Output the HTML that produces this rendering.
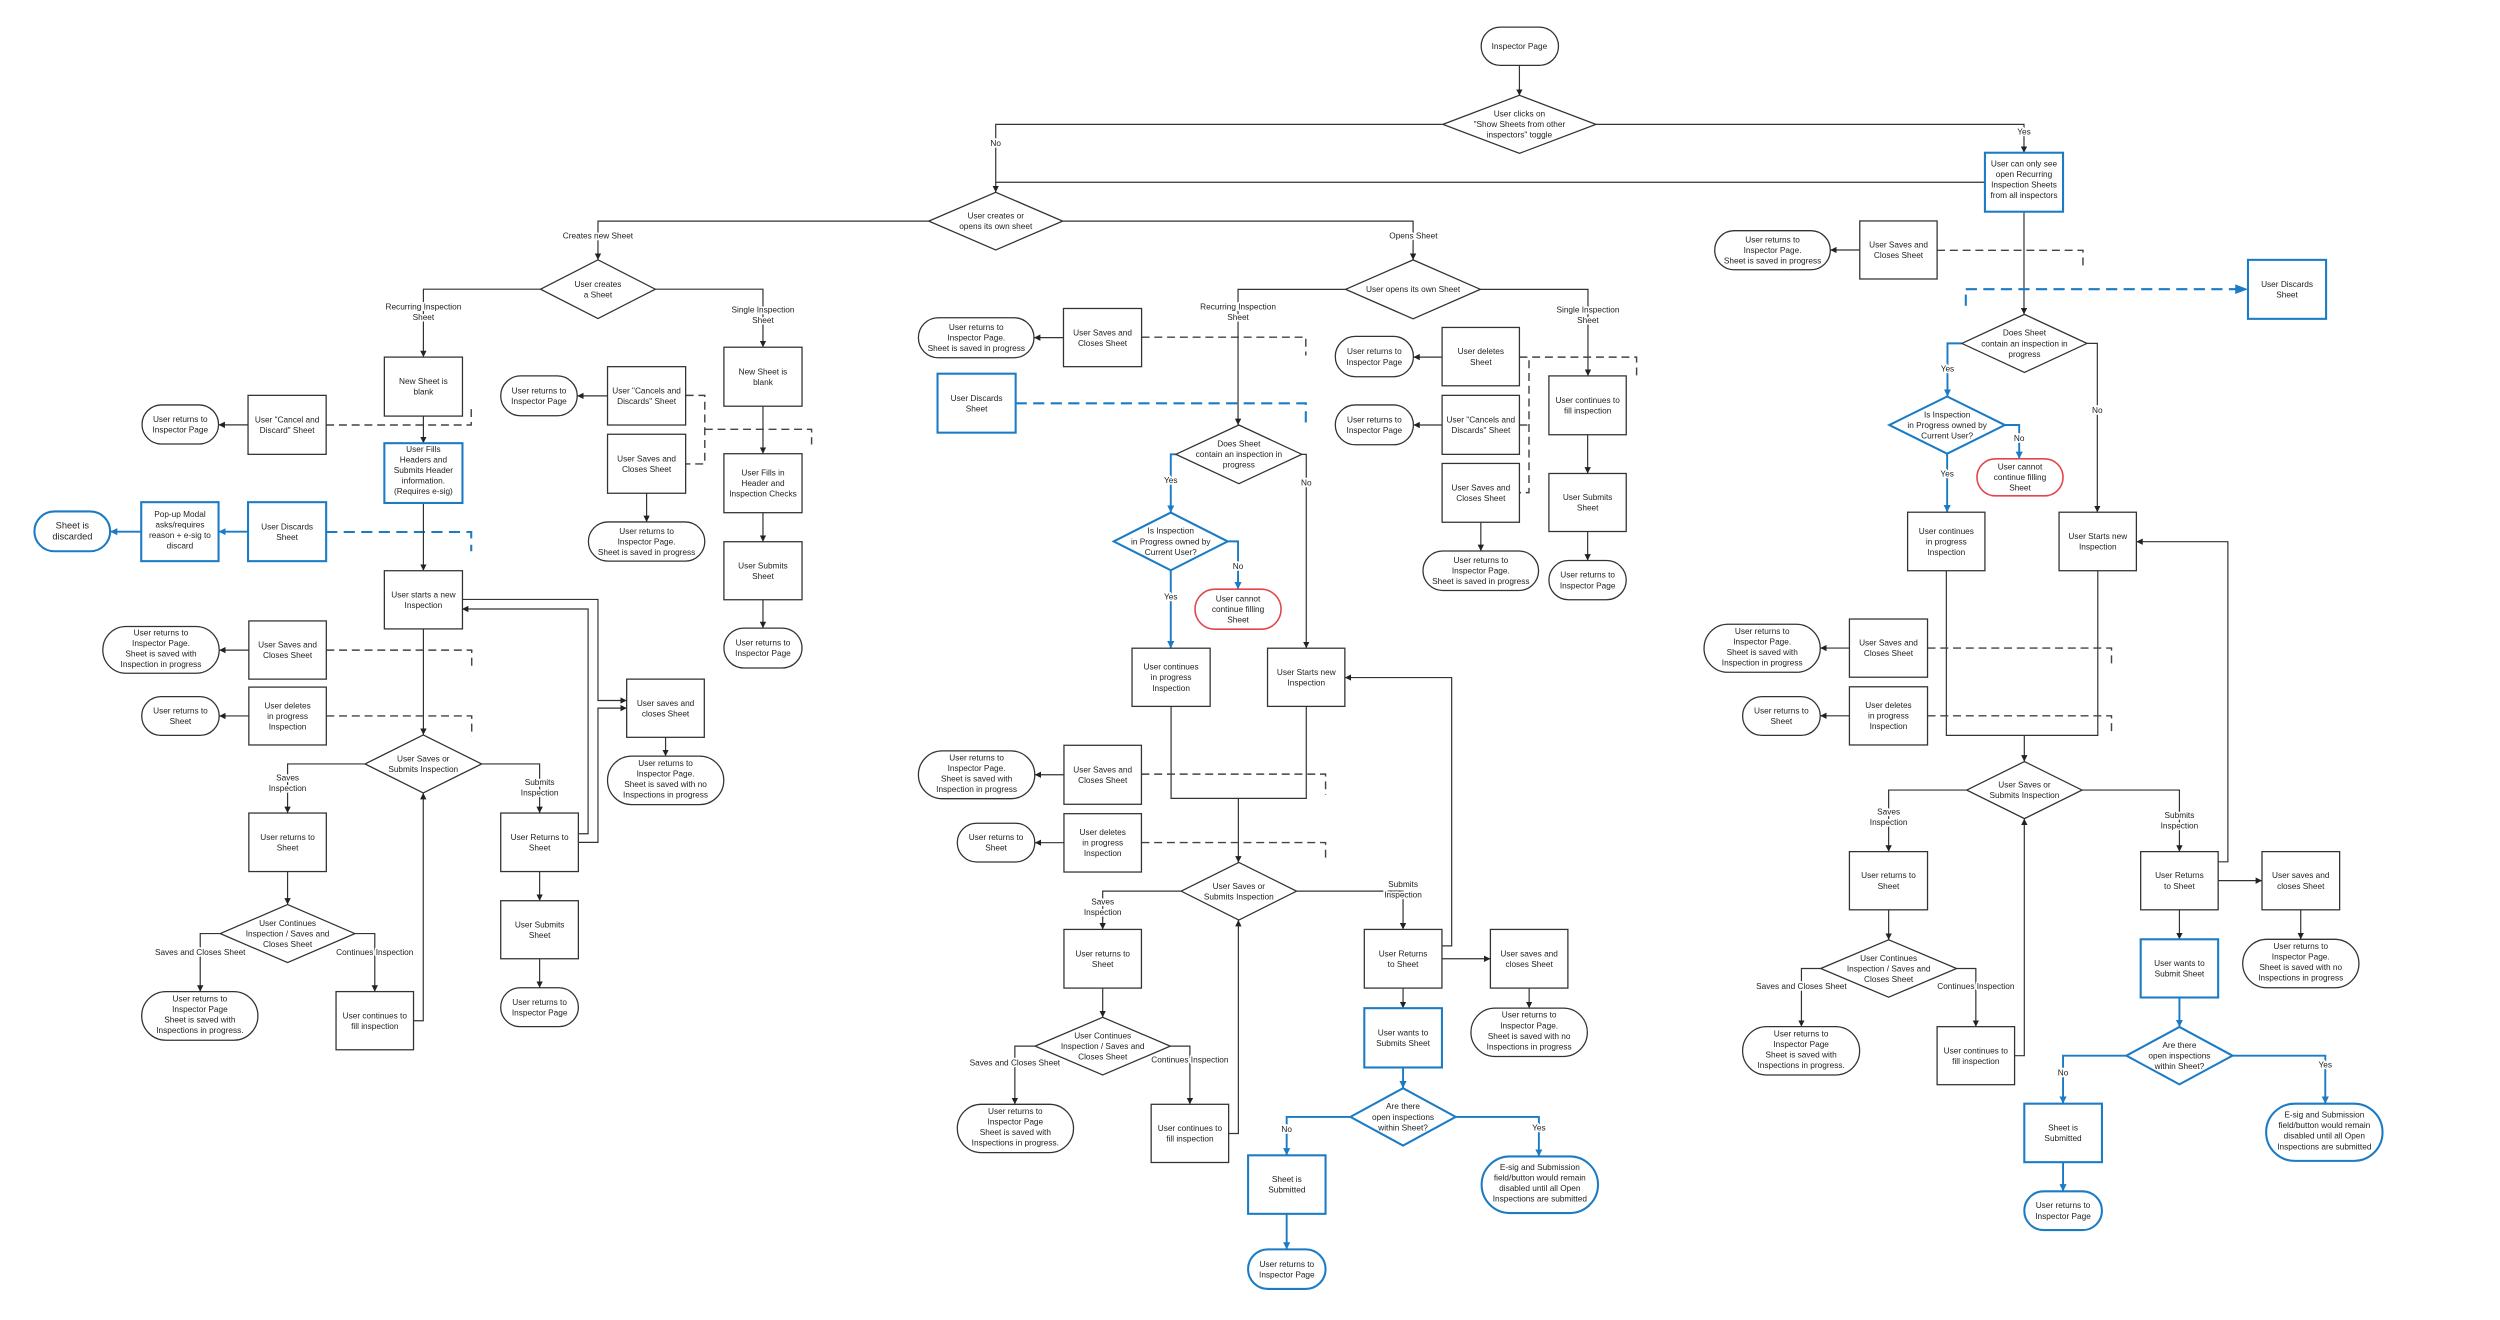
<!DOCTYPE html>
<html><head><meta charset="utf-8"><style>
html,body{margin:0;padding:0;background:#fff;}
svg{display:block;}
text{font-family:"Liberation Sans",Arial,sans-serif;font-size:5.2px;fill:#222;text-anchor:middle;}
.lb{paint-order:stroke;stroke:#fff;stroke-width:2.2px;stroke-linejoin:round;}
.n{fill:#fff;stroke:#333;stroke-width:0.8;}
.bn{fill:#fff;stroke:#1b7bc4;stroke-width:1.3;}
.rn{fill:#fff;stroke:#e0474c;stroke-width:1;}
.c{fill:none;stroke:#333;stroke-width:0.75;marker-end:url(#ab);}
.cn{fill:none;stroke:#333;stroke-width:0.75;}
.d{fill:none;stroke:#444;stroke-width:0.9;stroke-dasharray:5,3;}
.bc{fill:none;stroke:#1b7bc4;stroke-width:1.2;marker-end:url(#au);}
.bd{fill:none;stroke:#1b7bc4;stroke-width:1.3;stroke-dasharray:7,4;}
</style></head><body>
<svg width="2500" height="1320" viewBox="0 0 1568 828" xmlns="http://www.w3.org/2000/svg">
<defs>
<marker id="ab" viewBox="0 0 10 10" refX="10" refY="5" markerWidth="4" markerHeight="4" markerUnits="userSpaceOnUse" orient="auto"><path d="M0,0L10,5L0,10z" fill="#222"/></marker>
<marker id="au" viewBox="0 0 10 10" refX="10" refY="5" markerWidth="4.5" markerHeight="4.5" markerUnits="userSpaceOnUse" orient="auto"><path d="M0,0L10,5L0,10z" fill="#1b7bc4"/></marker>
</defs>
<rect width="1568" height="828" fill="#fff"/>

<!-- connectors -->
<path class="c" d="M953,41V60"/>
<path class="c" d="M905,78H624.5V120.6"/>
<path class="c" d="M1001,78H1269.5V95.8"/>
<path class="cn" d="M1245,114.3H624.5"/>
<path class="c" d="M582.5,138.7H375V163"/>
<path class="c" d="M666.5,138.7H886.3V163"/>
<path class="c" d="M339,181.4H265.5V224"/>
<path class="c" d="M411,181.4H478.5V217.8"/>
<path class="c" d="M155.5,266.5H137"/>
<path class="d" d="M204.5,266.6H295.5V254.8"/>
<path class="c" d="M265.5,261V278"/>
<path class="bc" d="M155.5,333.5H137"/>
<path class="bc" d="M88.5,333.5H69"/>
<path class="bd" d="M204.5,333.7H295.5V345.8"/>
<path class="c" d="M265.5,315.5V358"/>
<path class="c" d="M265.5,394.4V461"/>
<path class="c" d="M156,407.8H137.4"/>
<path class="d" d="M204.6,407.8H295.8V420"/>
<path class="c" d="M156,449.1H137.4"/>
<path class="d" d="M204.6,449.1H295.8V462"/>
<path class="c" d="M228.9,479.2H180.3V510"/>
<path class="c" d="M302,479.2H338.4V510"/>
<path class="c" d="M180.3,546.7V567.4"/>
<path class="c" d="M138.1,585.6H125.5V622"/>
<path class="c" d="M222.5,585.6H235V622"/>
<path class="c" d="M259.3,640.3H265.4V497.4"/>
<path class="c" d="M338.4,546.7V565"/>
<path class="c" d="M338.4,601.4V619.6"/>
<path class="c" d="M289.7,376H375V439.4H393"/>
<path class="c" d="M362.7,523H368.8V382H289.7"/>
<path class="c" d="M362.7,528.4H375V444.2H393"/>
<path class="c" d="M417.4,462.5V474.3"/>
<path class="c" d="M381,248.3H362"/>
<path class="c" d="M405.5,309.4V327.4"/>
<path class="d" d="M430,248H442V291H430"/>
<path class="d" d="M442,269.3H509V278.8"/>
<path class="c" d="M478.5,254.8V284.6"/>
<path class="c" d="M478.5,321.6V339.8"/>
<path class="c" d="M478.5,376.2V394"/>
<path class="c" d="M667,211.8H648.5"/>
<path class="d" d="M716,211.5H819V223"/>
<path class="bd" d="M637,253H819V266"/>
<path class="c" d="M844,181.5H776.5V266.6"/>
<path class="c" d="M928.5,181.5H996V235.8"/>
<path class="c" d="M904.5,224H886.5"/>
<path class="c" d="M904.5,266.6H886.5"/>
<path class="d" d="M953,224H1026.5V236"/>
<path class="d" d="M959,226V309H953"/>
<path class="d" d="M953,266.6H959"/>
<path class="c" d="M995.8,272.7V297"/>
<path class="c" d="M995.8,333.4V351.6"/>
<path class="c" d="M928.8,327.6V345.6"/>
<path class="bc" d="M737.5,285H734.3V321.5"/>
<path class="c" d="M816.5,285H819.3V406.6"/>
<path class="bc" d="M770,339.6H776.5V369.6"/>
<path class="bc" d="M734.3,357.7V406.6"/>
<path class="cn" d="M734.5,443V500.8H819.3V443"/>
<path class="c" d="M776.7,500.8V541"/>
<path class="c" d="M667.3,486H649"/>
<path class="d" d="M715.9,485.6H831.4V498.5"/>
<path class="c" d="M667.3,528.6H649"/>
<path class="d" d="M715.9,528.5H831.4V540.7"/>
<path class="c" d="M740.8,559H691.6V583"/>
<path class="c" d="M813.2,559H880V583"/>
<path class="c" d="M691.6,619.8V638.1"/>
<path class="c" d="M649.2,656.2H636.5V692.7"/>
<path class="c" d="M734,656.2H746.3V692.7"/>
<path class="c" d="M770.6,711H776.7V577.1"/>
<path class="c" d="M904.4,593.3H910.5V425H843.5"/>
<path class="c" d="M904.4,601.4H934.8"/>
<path class="c" d="M959.1,619.8V632.4"/>
<path class="c" d="M880,619.8V632.4"/>
<path class="bc" d="M880,669.6V682.6"/>
<path class="bc" d="M847,700.6H807V724.7"/>
<path class="bc" d="M913,700.6H965.2V725.4"/>
<path class="bc" d="M807,761.4V783.7"/>
<path class="c" d="M1269.5,132.8V197.2"/>
<path class="c" d="M1166.5,156.8H1148"/>
<path class="d" d="M1215,157H1306.5V169"/>
<path class="bd" d="M1233,181.4H1406" />
<path d="M1402,178.4L1410,181.4L1402,184.4z" fill="#1b7bc4"/>
<path class="bd" d="M1233,184.8V192"/>
<path class="bc" d="M1230.5,215.4H1221.5V248.7"/>
<path class="c" d="M1309,215.4H1315.5V321.3"/>
<path class="bc" d="M1257.5,266.6H1266.5V287.8"/>
<path class="bc" d="M1221.3,284.6V321.3"/>
<path class="cn" d="M1220.8,358V461.3H1315.8V358"/>
<path class="c" d="M1269.7,461.3V477.7"/>
<path class="c" d="M1160,406.5H1141.7"/>
<path class="d" d="M1209,406.5H1324.4V418.7"/>
<path class="c" d="M1160,449H1141.7"/>
<path class="d" d="M1209,449H1324.4V461.3"/>
<path class="c" d="M1233.6,495.6H1184.6V534.2"/>
<path class="c" d="M1305.9,495.6H1367V534.2"/>
<path class="c" d="M1184.6,570.7V589.5"/>
<path class="c" d="M1142,607.5H1129.9V644"/>
<path class="c" d="M1227.2,607.5H1239.3V644"/>
<path class="c" d="M1263.6,662.2H1269.7V513.5"/>
<path class="c" d="M1391.3,540.6H1397.4V339.8H1340"/>
<path class="c" d="M1391.3,552.4H1418.8"/>
<path class="c" d="M1443.1,570.7V589.2"/>
<path class="c" d="M1367,570.7V589.2"/>
<path class="bc" d="M1367,625.7V644.2"/>
<path class="bc" d="M1333.7,662.2H1294V692.3"/>
<path class="bc" d="M1400.3,662.2H1458.5V692.3"/>
<path class="bc" d="M1294,729V747.3"/>

<!-- connector labels -->
<text class="lb" x="624.5" y="91.5">No</text>
<text class="lb" x="1269.5" y="84.5">Yes</text>
<text class="lb" x="375" y="149.5">Creates new Sheet</text>
<text class="lb" x="886.5" y="149.5">Opens Sheet</text>
<text class="lb" x="265.5" y="194"><tspan x="265.5">Recurring Inspection</tspan><tspan x="265.5" dy="6.6">Sheet</tspan></text>
<text class="lb" x="478.5" y="196"><tspan x="478.5">Single Inspection</tspan><tspan x="478.5" dy="6.6">Sheet</tspan></text>
<text class="lb" x="180.3" y="489.5"><tspan x="180.3">Saves</tspan><tspan x="180.3" dy="6.6">Inspection</tspan></text>
<text class="lb" x="338.4" y="492.5"><tspan x="338.4">Submits</tspan><tspan x="338.4" dy="6.6">Inspection</tspan></text>
<text class="lb" x="125.5" y="599">Saves and Closes Sheet</text>
<text class="lb" x="235" y="599">Continues Inspection</text>
<text class="lb" x="776.5" y="194"><tspan x="776.5">Recurring Inspection</tspan><tspan x="776.5" dy="6.6">Sheet</tspan></text>
<text class="lb" x="996" y="196"><tspan x="996">Single Inspection</tspan><tspan x="996" dy="6.6">Sheet</tspan></text>
<text class="lb" x="734.3" y="303">Yes</text>
<text class="lb" x="819.3" y="304.5">No</text>
<text class="lb" x="776.5" y="357">No</text>
<text class="lb" x="734.3" y="376">Yes</text>
<text class="lb" x="691.6" y="567.5"><tspan x="691.6">Saves</tspan><tspan x="691.6" dy="6.6">Inspection</tspan></text>
<text class="lb" x="880" y="556.5"><tspan x="880">Submits</tspan><tspan x="880" dy="6.6">Inspection</tspan></text>
<text class="lb" x="636.5" y="668.5">Saves and Closes Sheet</text>
<text class="lb" x="746.3" y="666.5">Continues Inspection</text>
<text class="lb" x="807" y="710">No</text>
<text class="lb" x="965.2" y="709">Yes</text>
<text class="lb" x="1221.5" y="233">Yes</text>
<text class="lb" x="1315.5" y="259">No</text>
<text class="lb" x="1266.5" y="276.5">No</text>
<text class="lb" x="1221.3" y="299">Yes</text>
<text class="lb" x="1184.6" y="511"><tspan x="1184.6">Saves</tspan><tspan x="1184.6" dy="6.6">Inspection</tspan></text>
<text class="lb" x="1367" y="513"><tspan x="1367">Submits</tspan><tspan x="1367" dy="6.6">Inspection</tspan></text>
<text class="lb" x="1129.9" y="620.5">Saves and Closes Sheet</text>
<text class="lb" x="1239.3" y="620.5">Continues Inspection</text>
<text class="lb" x="1294" y="674.5">No</text>
<text class="lb" x="1458.5" y="669.5">Yes</text>

<!-- nodes -->
<rect class="n" x="929" y="17" width="48.5" height="24" rx="12"/>
<text x="953" y="30.8">Inspector Page</text>
<path class="n" d="M905,78L953,59.8L1001,78L953,96.2z"/>
<text x="953" y="73.2"><tspan x="953">User clicks on</tspan><tspan x="953" dy="6.6">"Show Sheets from other</tspan><tspan x="953" dy="6.6">inspectors" toggle</tspan></text>
<rect class="bn" x="1245" y="95.8" width="49" height="37"/>
<text x="1269.5" y="104.4"><tspan x="1269.5">User can only see</tspan><tspan x="1269.5" dy="6.6">open Recurring</tspan><tspan x="1269.5" dy="6.6">Inspection Sheets</tspan><tspan x="1269.5" dy="6.6">from all inspectors</tspan></text>
<path class="n" d="M582.5,138.7L624.5,120.6L666.5,138.7L624.5,156.8z"/>
<text x="624.5" y="137.2"><tspan x="624.5">User creates or</tspan><tspan x="624.5" dy="6.6">opens its own sheet</tspan></text>
<path class="n" d="M339,181.4L375,163L411,181.4L375,199.8z"/>
<text x="375" y="179.9"><tspan x="375">User creates</tspan><tspan x="375" dy="6.6">a Sheet</tspan></text>
<path class="n" d="M844,181.5L886.3,163L928.5,181.5L886.3,200z"/>
<text x="886.3" y="183.3">User opens its own Sheet</text>

<rect class="n" x="241" y="224" width="49" height="37"/>
<text x="265.5" y="241"><tspan x="265.5">New Sheet is</tspan><tspan x="265.5" dy="6.6">blank</tspan></text>
<rect class="n" x="155.5" y="248" width="49" height="37"/>
<text x="180" y="265"><tspan x="180">User "Cancel and</tspan><tspan x="180" dy="6.6">Discard" Sheet</tspan></text>
<rect class="n" x="89" y="254" width="48" height="24.5" rx="12.2"/>
<text x="113" y="264.8"><tspan x="113">User returns to</tspan><tspan x="113" dy="6.6">Inspector Page</tspan></text>
<rect class="bn" x="241" y="278" width="49" height="37.5"/>
<text x="265.5" y="283.6"><tspan x="265.5">User Fills</tspan><tspan x="265.5" dy="6.6">Headers and</tspan><tspan x="265.5" dy="6.6">Submits Header</tspan><tspan x="265.5" dy="6.6">information.</tspan><tspan x="265.5" dy="6.6">(Requires e-sig)</tspan></text>
<rect class="bn" x="155.5" y="315" width="49" height="37"/>
<text x="180" y="332"><tspan x="180">User Discards</tspan><tspan x="180" dy="6.6">Sheet</tspan></text>
<rect class="bn" x="88.5" y="315" width="48.5" height="37"/>
<text x="112.8" y="324.4"><tspan x="112.8">Pop-up Modal</tspan><tspan x="112.8" dy="6.6">asks/requires</tspan><tspan x="112.8" dy="6.6">reason + e-sig to</tspan><tspan x="112.8" dy="6.6">discard</tspan></text>
<rect class="bn" x="21.5" y="320.8" width="47.5" height="25" rx="12.5"/>
<text x="45.3" y="331.4" style="font-size:5.8px"><tspan x="45.3">Sheet is</tspan><tspan x="45.3" dy="7">discarded</tspan></text>
<rect class="n" x="241" y="358" width="49" height="36.5"/>
<text x="265.5" y="374.7"><tspan x="265.5">User starts a new</tspan><tspan x="265.5" dy="6.6">Inspection</tspan></text>
<rect class="n" x="156" y="389.5" width="48.6" height="36.5"/>
<text x="180.3" y="406.3"><tspan x="180.3">User Saves and</tspan><tspan x="180.3" dy="6.6">Closes Sheet</tspan></text>
<rect class="n" x="64.4" y="393" width="73" height="29.3" rx="14.6"/>
<text x="100.9" y="398.6"><tspan x="100.9">User returns to</tspan><tspan x="100.9" dy="6.6">Inspector Page.</tspan><tspan x="100.9" dy="6.6">Sheet is saved with</tspan><tspan x="100.9" dy="6.6">Inspection in progress</tspan></text>
<rect class="n" x="156" y="431" width="48.6" height="36.3"/>
<text x="180.3" y="444.4"><tspan x="180.3">User deletes</tspan><tspan x="180.3" dy="6.6">in progress</tspan><tspan x="180.3" dy="6.6">Inspection</tspan></text>
<rect class="n" x="88.8" y="437" width="48.6" height="24.3" rx="12.1"/>
<text x="113.1" y="447.7"><tspan x="113.1">User returns to</tspan><tspan x="113.1" dy="6.6">Sheet</tspan></text>
<path class="n" d="M228.9,479.2L265.4,461L302,479.2L265.4,497.4z"/>
<text x="265.4" y="477.7"><tspan x="265.4">User Saves or</tspan><tspan x="265.4" dy="6.6">Submits Inspection</tspan></text>
<rect class="n" x="156" y="510" width="48.6" height="36.7"/>
<text x="180.3" y="526.8"><tspan x="180.3">User returns to</tspan><tspan x="180.3" dy="6.6">Sheet</tspan></text>
<path class="n" d="M138.1,585.6L180.3,567.4L222.5,585.6L180.3,603.8z"/>
<text x="180.3" y="580.8"><tspan x="180.3">User Continues</tspan><tspan x="180.3" dy="6.6">Inspection / Saves and</tspan><tspan x="180.3" dy="6.6">Closes Sheet</tspan></text>
<rect class="n" x="88.8" y="622" width="72.9" height="30.5" rx="15.2"/>
<text x="125.3" y="628.2"><tspan x="125.3">User returns to</tspan><tspan x="125.3" dy="6.6">Inspector Page</tspan><tspan x="125.3" dy="6.6">Sheet is saved with</tspan><tspan x="125.3" dy="6.6">Inspections in progress.</tspan></text>
<rect class="n" x="210.7" y="622" width="48.6" height="36.5"/>
<text x="235" y="638.8"><tspan x="235">User continues to</tspan><tspan x="235" dy="6.6">fill inspection</tspan></text>
<rect class="n" x="314" y="510" width="48.7" height="36.7"/>
<text x="338.4" y="526.8"><tspan x="338.4">User Returns to</tspan><tspan x="338.4" dy="6.6">Sheet</tspan></text>
<rect class="n" x="314" y="565" width="48.7" height="36.4"/>
<text x="338.4" y="581.7"><tspan x="338.4">User Submits</tspan><tspan x="338.4" dy="6.6">Sheet</tspan></text>
<rect class="n" x="314" y="619.6" width="48.7" height="24.4" rx="12.2"/>
<text x="338.4" y="630.3"><tspan x="338.4">User returns to</tspan><tspan x="338.4" dy="6.6">Inspector Page</tspan></text>
<rect class="n" x="393" y="426" width="48.7" height="36.5"/>
<text x="417.4" y="442.7"><tspan x="417.4">User saves and</tspan><tspan x="417.4" dy="6.6">closes Sheet</tspan></text>
<rect class="n" x="381" y="474.3" width="72.9" height="30.4" rx="15.2"/>
<text x="417.4" y="480.4"><tspan x="417.4">User returns to</tspan><tspan x="417.4" dy="6.6">Inspector Page.</tspan><tspan x="417.4" dy="6.6">Sheet is saved with no</tspan><tspan x="417.4" dy="6.6">Inspections in progress</tspan></text>

<rect class="n" x="381" y="230" width="49" height="36.6"/>
<text x="405.5" y="246.8"><tspan x="405.5">User "Cancels and</tspan><tspan x="405.5" dy="6.6">Discards" Sheet</tspan></text>
<rect class="n" x="314" y="235.8" width="48" height="25" rx="12.5"/>
<text x="338" y="246.8"><tspan x="338">User returns to</tspan><tspan x="338" dy="6.6">Inspector Page</tspan></text>
<rect class="n" x="381" y="272.4" width="49" height="37"/>
<text x="405.5" y="289.4"><tspan x="405.5">User Saves and</tspan><tspan x="405.5" dy="6.6">Closes Sheet</tspan></text>
<rect class="n" x="369" y="327.4" width="73" height="24.6" rx="12.3"/>
<text x="405.5" y="334.9"><tspan x="405.5">User returns to</tspan><tspan x="405.5" dy="6.6">Inspector Page.</tspan><tspan x="405.5" dy="6.6">Sheet is saved in progress</tspan></text>
<rect class="n" x="454" y="217.8" width="49" height="37"/>
<text x="478.5" y="234.8"><tspan x="478.5">New Sheet is</tspan><tspan x="478.5" dy="6.6">blank</tspan></text>
<rect class="n" x="454" y="284.6" width="49" height="37"/>
<text x="478.5" y="298.3"><tspan x="478.5">User Fills in</tspan><tspan x="478.5" dy="6.6">Header and</tspan><tspan x="478.5" dy="6.6">Inspection Checks</tspan></text>
<rect class="n" x="454" y="339.8" width="49" height="36.4"/>
<text x="478.5" y="356.5"><tspan x="478.5">User Submits</tspan><tspan x="478.5" dy="6.6">Sheet</tspan></text>
<rect class="n" x="454" y="394" width="49" height="25" rx="12.5"/>
<text x="478.5" y="405"><tspan x="478.5">User returns to</tspan><tspan x="478.5" dy="6.6">Inspector Page</tspan></text>

<rect class="n" x="667" y="193.5" width="49" height="36.5"/>
<text x="691.5" y="210.3"><tspan x="691.5">User Saves and</tspan><tspan x="691.5" dy="6.6">Closes Sheet</tspan></text>
<rect class="n" x="576" y="199.3" width="72.5" height="25.1" rx="12.5"/>
<text x="612.3" y="207.1"><tspan x="612.3">User returns to</tspan><tspan x="612.3" dy="6.6">Inspector Page.</tspan><tspan x="612.3" dy="6.6">Sheet is saved in progress</tspan></text>
<rect class="bn" x="588" y="234.4" width="49" height="37"/>
<text x="612.5" y="251.4"><tspan x="612.5">User Discards</tspan><tspan x="612.5" dy="6.6">Sheet</tspan></text>
<path class="n" d="M737.5,285L777,266.6L816.5,285L777,303.4z"/>
<text x="777" y="280.2"><tspan x="777">Does Sheet</tspan><tspan x="777" dy="6.6">contain an inspection in</tspan><tspan x="777" dy="6.6">progress</tspan></text>
<path class="bn" d="M698.5,339.6L734.3,321.5L770,339.6L734.3,357.7z"/>
<text x="734.3" y="334.8"><tspan x="734.3">Is Inspection</tspan><tspan x="734.3" dy="6.6">in Progress owned by</tspan><tspan x="734.3" dy="6.6">Current User?</tspan></text>
<rect class="rn" x="749.5" y="369.6" width="54" height="25.1" rx="12.5"/>
<text x="776.5" y="377.4"><tspan x="776.5">User cannot</tspan><tspan x="776.5" dy="6.6">continue filling</tspan><tspan x="776.5" dy="6.6">Sheet</tspan></text>
<rect class="n" x="710" y="406.6" width="49" height="36.5"/>
<text x="734.5" y="420.1"><tspan x="734.5">User continues</tspan><tspan x="734.5" dy="6.6">in progress</tspan><tspan x="734.5" dy="6.6">Inspection</tspan></text>
<rect class="n" x="795" y="406.6" width="48.5" height="36.5"/>
<text x="819.3" y="423.4"><tspan x="819.3">User Starts new</tspan><tspan x="819.3" dy="6.6">Inspection</tspan></text>
<rect class="n" x="904.5" y="205.4" width="48.5" height="36.6"/>
<text x="928.8" y="222.2"><tspan x="928.8">User deletes</tspan><tspan x="928.8" dy="6.6">Sheet</tspan></text>
<rect class="n" x="837.5" y="211" width="49" height="25.3" rx="12.6"/>
<text x="862" y="222.2"><tspan x="862">User returns to</tspan><tspan x="862" dy="6.6">Inspector Page</tspan></text>
<rect class="n" x="904.5" y="248" width="48.5" height="37"/>
<text x="928.8" y="265"><tspan x="928.8">User "Cancels and</tspan><tspan x="928.8" dy="6.6">Discards" Sheet</tspan></text>
<rect class="n" x="837.5" y="254" width="49" height="25" rx="12.5"/>
<text x="862" y="265"><tspan x="862">User returns to</tspan><tspan x="862" dy="6.6">Inspector Page</tspan></text>
<rect class="n" x="904.5" y="290.7" width="48.5" height="36.9"/>
<text x="928.8" y="307.6"><tspan x="928.8">User Saves and</tspan><tspan x="928.8" dy="6.6">Closes Sheet</tspan></text>
<rect class="n" x="892.5" y="345.6" width="72.5" height="24.8" rx="12.4"/>
<text x="928.8" y="353.2"><tspan x="928.8">User returns to</tspan><tspan x="928.8" dy="6.6">Inspector Page.</tspan><tspan x="928.8" dy="6.6">Sheet is saved in progress</tspan></text>
<rect class="n" x="971.5" y="235.8" width="48.5" height="36.9"/>
<text x="995.8" y="252.7"><tspan x="995.8">User continues to</tspan><tspan x="995.8" dy="6.6">fill inspection</tspan></text>
<rect class="n" x="971.5" y="297" width="48.5" height="36.4"/>
<text x="995.8" y="313.7"><tspan x="995.8">User Submits</tspan><tspan x="995.8" dy="6.6">Sheet</tspan></text>
<rect class="n" x="971.5" y="351.6" width="48.5" height="24.6" rx="12.3"/>
<text x="995.8" y="362.4"><tspan x="995.8">User returns to</tspan><tspan x="995.8" dy="6.6">Inspector Page</tspan></text>

<rect class="n" x="667.3" y="467.5" width="48.6" height="37"/>
<text x="691.6" y="484.5"><tspan x="691.6">User Saves and</tspan><tspan x="691.6" dy="6.6">Closes Sheet</tspan></text>
<rect class="n" x="576" y="471" width="73" height="30" rx="15"/>
<text x="612.5" y="476.9"><tspan x="612.5">User returns to</tspan><tspan x="612.5" dy="6.6">Inspector Page.</tspan><tspan x="612.5" dy="6.6">Sheet is saved with</tspan><tspan x="612.5" dy="6.6">Inspection in progress</tspan></text>
<rect class="n" x="667.3" y="510.4" width="48.6" height="36.6"/>
<text x="691.6" y="523.9"><tspan x="691.6">User deletes</tspan><tspan x="691.6" dy="6.6">in progress</tspan><tspan x="691.6" dy="6.6">Inspection</tspan></text>
<rect class="n" x="600.4" y="516.4" width="48.6" height="24.3" rx="12.1"/>
<text x="624.7" y="527"><tspan x="624.7">User returns to</tspan><tspan x="624.7" dy="6.6">Sheet</tspan></text>
<path class="n" d="M740.8,559L777,541L813.2,559L777,577.1z"/>
<text x="777" y="557.5"><tspan x="777">User Saves or</tspan><tspan x="777" dy="6.6">Submits Inspection</tspan></text>
<rect class="n" x="667.3" y="583" width="48.6" height="36.8"/>
<text x="691.6" y="599.9"><tspan x="691.6">User returns to</tspan><tspan x="691.6" dy="6.6">Sheet</tspan></text>
<path class="n" d="M649.2,656.2L691.6,638.1L734,656.2L691.6,674.3z"/>
<text x="691.6" y="651.4"><tspan x="691.6">User Continues</tspan><tspan x="691.6" dy="6.6">Inspection / Saves and</tspan><tspan x="691.6" dy="6.6">Closes Sheet</tspan></text>
<rect class="n" x="600.4" y="692.7" width="72.9" height="30.3" rx="15.1"/>
<text x="636.8" y="698.7"><tspan x="636.8">User returns to</tspan><tspan x="636.8" dy="6.6">Inspector Page</tspan><tspan x="636.8" dy="6.6">Sheet is saved with</tspan><tspan x="636.8" dy="6.6">Inspections in progress.</tspan></text>
<rect class="n" x="722" y="692.7" width="48.6" height="36.5"/>
<text x="746.3" y="709.5"><tspan x="746.3">User continues to</tspan><tspan x="746.3" dy="6.6">fill inspection</tspan></text>
<rect class="n" x="855.7" y="583" width="48.7" height="36.8"/>
<text x="880" y="599.9"><tspan x="880">User Returns</tspan><tspan x="880" dy="6.6">to Sheet</tspan></text>
<rect class="n" x="934.8" y="583" width="48.6" height="36.8"/>
<text x="959.1" y="599.9"><tspan x="959.1">User saves and</tspan><tspan x="959.1" dy="6.6">closes Sheet</tspan></text>
<rect class="n" x="922.6" y="632.4" width="73" height="30.3" rx="15.1"/>
<text x="959.1" y="638.4"><tspan x="959.1">User returns to</tspan><tspan x="959.1" dy="6.6">Inspector Page.</tspan><tspan x="959.1" dy="6.6">Sheet is saved with no</tspan><tspan x="959.1" dy="6.6">Inspections in progress</tspan></text>
<rect class="bn" x="855.7" y="632.4" width="48.7" height="37.2"/>
<text x="880" y="649.5"><tspan x="880">User wants to</tspan><tspan x="880" dy="6.6">Submits Sheet</tspan></text>
<path class="bn" d="M847,700.6L880,682.6L913,700.6L880,718.6z"/>
<text x="880" y="695.8"><tspan x="880">Are there</tspan><tspan x="880" dy="6.6">open inspections</tspan><tspan x="880" dy="6.6">within Sheet?</tspan></text>
<rect class="bn" x="782.8" y="724.7" width="48.6" height="36.7"/>
<text x="807.1" y="741.5"><tspan x="807.1">Sheet is</tspan><tspan x="807.1" dy="6.6">Submitted</tspan></text>
<rect class="bn" x="929.3" y="725.4" width="73" height="35.5" rx="17.7"/>
<text x="965.8" y="734"><tspan x="965.8">E-sig and Submission</tspan><tspan x="965.8" dy="6.6">field/button would remain</tspan><tspan x="965.8" dy="6.6">disabled until all Open</tspan><tspan x="965.8" dy="6.6">Inspections are submitted</tspan></text>
<rect class="bn" x="782.8" y="783.7" width="48.6" height="24.8" rx="12.4"/>
<text x="807.1" y="794.6"><tspan x="807.1">User returns to</tspan><tspan x="807.1" dy="6.6">Inspector Page</tspan></text>

<rect class="n" x="1166.5" y="138.6" width="48.5" height="36.4"/>
<text x="1190.8" y="155.3"><tspan x="1190.8">User Saves and</tspan><tspan x="1190.8" dy="6.6">Closes Sheet</tspan></text>
<rect class="n" x="1075.5" y="144.7" width="72.5" height="24.5" rx="12.2"/>
<text x="1111.8" y="152.2"><tspan x="1111.8">User returns to</tspan><tspan x="1111.8" dy="6.6">Inspector Page.</tspan><tspan x="1111.8" dy="6.6">Sheet is saved in progress</tspan></text>
<rect class="bn" x="1410" y="163" width="49" height="37"/>
<text x="1434.5" y="180"><tspan x="1434.5">User Discards</tspan><tspan x="1434.5" dy="6.6">Sheet</tspan></text>
<path class="n" d="M1230.5,215.4L1269.8,197.2L1309,215.4L1269.8,233.6z"/>
<text x="1269.8" y="210.6"><tspan x="1269.8">Does Sheet</tspan><tspan x="1269.8" dy="6.6">contain an inspection in</tspan><tspan x="1269.8" dy="6.6">progress</tspan></text>
<path class="bn" d="M1185,266.6L1221.3,248.7L1257.5,266.6L1221.3,284.6z"/>
<text x="1221.3" y="261.8"><tspan x="1221.3">Is Inspection</tspan><tspan x="1221.3" dy="6.6">in Progress owned by</tspan><tspan x="1221.3" dy="6.6">Current User?</tspan></text>
<rect class="rn" x="1240" y="287.8" width="54" height="23.2" rx="11.6"/>
<text x="1267" y="294.6"><tspan x="1267">User cannot</tspan><tspan x="1267" dy="6.6">continue filling</tspan><tspan x="1267" dy="6.6">Sheet</tspan></text>
<rect class="n" x="1196.5" y="321.3" width="48.5" height="36.7"/>
<text x="1220.8" y="334.9"><tspan x="1220.8">User continues</tspan><tspan x="1220.8" dy="6.6">in progress</tspan><tspan x="1220.8" dy="6.6">Inspection</tspan></text>
<rect class="n" x="1291.5" y="321.3" width="48.5" height="36.7"/>
<text x="1315.8" y="338.2"><tspan x="1315.8">User Starts new</tspan><tspan x="1315.8" dy="6.6">Inspection</tspan></text>
<rect class="n" x="1160" y="388.3" width="49" height="36.5"/>
<text x="1184.5" y="405"><tspan x="1184.5">User Saves and</tspan><tspan x="1184.5" dy="6.6">Closes Sheet</tspan></text>
<rect class="n" x="1068.8" y="391.6" width="72.9" height="30.1" rx="15"/>
<text x="1105.3" y="397.6"><tspan x="1105.3">User returns to</tspan><tspan x="1105.3" dy="6.6">Inspector Page.</tspan><tspan x="1105.3" dy="6.6">Sheet is saved with</tspan><tspan x="1105.3" dy="6.6">Inspection in progress</tspan></text>
<rect class="n" x="1160" y="430.8" width="49" height="36.5"/>
<text x="1184.5" y="444.2"><tspan x="1184.5">User deletes</tspan><tspan x="1184.5" dy="6.6">in progress</tspan><tspan x="1184.5" dy="6.6">Inspection</tspan></text>
<rect class="n" x="1093" y="437" width="48.7" height="24.3" rx="12.1"/>
<text x="1117.3" y="447.7"><tspan x="1117.3">User returns to</tspan><tspan x="1117.3" dy="6.6">Sheet</tspan></text>
<path class="n" d="M1233.6,495.6L1269.8,477.7L1305.9,495.6L1269.8,513.5z"/>
<text x="1269.8" y="494.1"><tspan x="1269.8">User Saves or</tspan><tspan x="1269.8" dy="6.6">Submits Inspection</tspan></text>
<rect class="n" x="1160" y="534.2" width="49" height="36.5"/>
<text x="1184.5" y="550.9"><tspan x="1184.5">User returns to</tspan><tspan x="1184.5" dy="6.6">Sheet</tspan></text>
<path class="n" d="M1142,607.5L1184.6,589.5L1227.2,607.5L1184.6,625.5z"/>
<text x="1184.6" y="602.7"><tspan x="1184.6">User Continues</tspan><tspan x="1184.6" dy="6.6">Inspection / Saves and</tspan><tspan x="1184.6" dy="6.6">Closes Sheet</tspan></text>
<rect class="n" x="1093" y="644" width="73.4" height="30.3" rx="15.1"/>
<text x="1129.7" y="650.1"><tspan x="1129.7">User returns to</tspan><tspan x="1129.7" dy="6.6">Inspector Page</tspan><tspan x="1129.7" dy="6.6">Sheet is saved with</tspan><tspan x="1129.7" dy="6.6">Inspections in progress.</tspan></text>
<rect class="n" x="1215" y="644" width="48.6" height="36.4"/>
<text x="1239.3" y="660.7"><tspan x="1239.3">User continues to</tspan><tspan x="1239.3" dy="6.6">fill inspection</tspan></text>
<rect class="n" x="1342.7" y="534.2" width="48.6" height="36.5"/>
<text x="1367" y="550.9"><tspan x="1367">User Returns</tspan><tspan x="1367" dy="6.6">to Sheet</tspan></text>
<rect class="n" x="1418.8" y="534.2" width="48.7" height="36.5"/>
<text x="1443.1" y="550.9"><tspan x="1443.1">User saves and</tspan><tspan x="1443.1" dy="6.6">closes Sheet</tspan></text>
<rect class="n" x="1406.7" y="589.2" width="72.9" height="30.4" rx="15.2"/>
<text x="1443.1" y="595.3"><tspan x="1443.1">User returns to</tspan><tspan x="1443.1" dy="6.6">Inspector Page.</tspan><tspan x="1443.1" dy="6.6">Sheet is saved with no</tspan><tspan x="1443.1" dy="6.6">Inspections in progress</tspan></text>
<rect class="bn" x="1342.7" y="589.2" width="48.6" height="36.5"/>
<text x="1367" y="606"><tspan x="1367">User wants to</tspan><tspan x="1367" dy="6.6">Submit Sheet</tspan></text>
<path class="bn" d="M1333.7,662.2L1367,644.2L1400.3,662.2L1367,680.2z"/>
<text x="1367" y="657.4"><tspan x="1367">Are there</tspan><tspan x="1367" dy="6.6">open inspections</tspan><tspan x="1367" dy="6.6">within Sheet?</tspan></text>
<rect class="bn" x="1269.7" y="692.3" width="48.7" height="36.7"/>
<text x="1294" y="709.1"><tspan x="1294">Sheet is</tspan><tspan x="1294" dy="6.6">Submitted</tspan></text>
<rect class="bn" x="1421.4" y="692.3" width="73" height="35.9" rx="17.9"/>
<text x="1457.9" y="701.1"><tspan x="1457.9">E-sig and Submission</tspan><tspan x="1457.9" dy="6.6">field/button would remain</tspan><tspan x="1457.9" dy="6.6">disabled until all Open</tspan><tspan x="1457.9" dy="6.6">Inspections are submitted</tspan></text>
<rect class="bn" x="1269.7" y="747.3" width="48.7" height="24.3" rx="12.1"/>
<text x="1294" y="757.9"><tspan x="1294">User returns to</tspan><tspan x="1294" dy="6.6">Inspector Page</tspan></text>
</svg>
</body></html>
